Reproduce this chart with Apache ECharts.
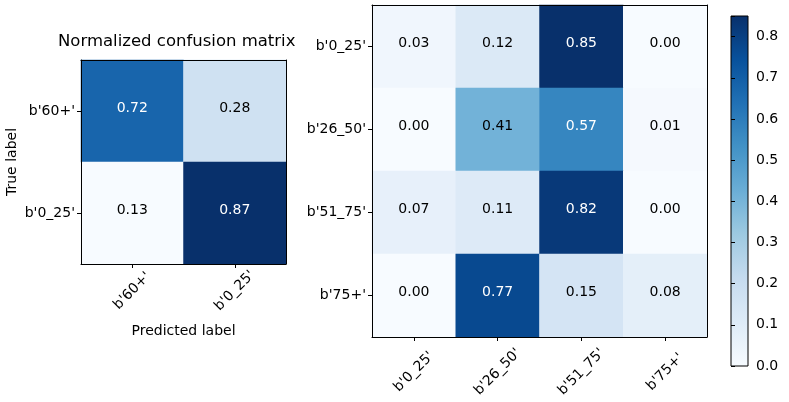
<!DOCTYPE html>
<html>
<head>
<meta charset="utf-8">
<script src="https://cdn.jsdelivr.net/npm/echarts@6/dist/echarts.min.js"></script>
<style>
  html, body { margin: 0; padding: 0; background: #fff; }
  #chart { width: 789px; height: 402px; }
</style>
</head>
<body>
<div id="chart"></div>
<script>
  // class labels
  const leftLabels = ["b'60+'", "b'0_25'"];
  const rightLabels = ["b'0_25'", "b'26_50'", "b'51_75'", "b'75+'"];

  // normalized confusion matrices (rows = true, cols = predicted)
  const leftMatrix = [
    [0.72, 0.28],
    [0.13, 0.87],
  ];
  const rightMatrix = [
    [0.03, 0.12, 0.85, 0.00],
    [0.00, 0.41, 0.57, 0.01],
    [0.07, 0.11, 0.82, 0.00],
    [0.00, 0.77, 0.15, 0.08],
  ];

  // colour range of each matrix (data min / max)
  const leftRange = [0.13, 0.87];
  const rightRange = [0.00, 0.85];
  const colorbarTicks = [0.0, 0.1, 0.2, 0.3, 0.4, 0.5, 0.6, 0.7, 0.8];

  // matplotlib "Blues"
  const blues = ['#f7fbff', '#deebf7', '#c6dbef', '#9ecae1', '#6baed6',
    '#4292c6', '#2171b5', '#08519c', '#08306b'];

  const font = 'DejaVu Sans';
  const fs = 14;

  const toCells = (matrix, range) => {
    const thresh = range[1] / 2;
    const out = [];
    matrix.forEach((row, r) => {
      row.forEach((v, c) => {
        out.push({
          value: [c, r, v],
          label: { color: v > thresh ? '#fff' : '#000' },
        });
      });
    });
    return out;
  };

  const spine = { show: true, lineStyle: { color: '#000', width: 1 } };
  const tick = { show: true, alignWithLabel: true, length: 4, lineStyle: { color: '#000' } };
  const tickLabel = { color: '#000', fontFamily: font, fontSize: fs };

  const edgeX = (grid, labels, pos) => ({
    type: 'category', gridIndex: grid, data: labels, position: pos, z: 10,
    axisLine: spine, axisTick: { show: false }, axisLabel: { show: false }, splitLine: { show: false },
  });
  const edgeY = (grid, labels, pos) => ({
    type: 'category', gridIndex: grid, data: labels, position: pos, inverse: true, z: 10,
    axisLine: spine, axisTick: { show: false }, axisLabel: { show: false }, splitLine: { show: false },
  });

  // colorbar fill, dark at the top
  const gradStops = blues.map((c, i) => ({ offset: 1 - i / (blues.length - 1), color: c })).reverse();

  const cellLabel = {
    show: true, fontFamily: font, fontSize: fs, offset: [0, -3],
    formatter: (p) => p.value[2].toFixed(2),
  };

  const myChart = echarts.init(document.getElementById('chart'));
  myChart.setOption({
    animation: false,
    backgroundColor: '#fff',
    title: {
      text: 'Normalized confusion matrix',
      left: 53, top: 28,
      textStyle: { fontFamily: font, fontSize: 16.5, fontWeight: 'normal', color: '#000' },
    },
    grid: [
      { left: 81, top: 60, width: 205, height: 204 },
      { left: 372, top: 5, width: 335, height: 332 },
      {
        left: 731, top: 16, width: 17, height: 350, show: true,
        borderColor: '#000', borderWidth: 1,
        backgroundColor: { type: 'linear', x: 0, y: 0, x2: 0, y2: 1, colorStops: gradStops },
      },
    ],
    xAxis: [
      {
        type: 'category', gridIndex: 0, data: leftLabels, z: 10,
        axisLine: spine, axisTick: tick, splitLine: { show: false },
        axisLabel: Object.assign({ rotate: 45, margin: 27, align: 'center', verticalAlign: 'middle' }, tickLabel),
        name: 'Predicted label', nameLocation: 'middle', nameGap: 60,
        nameTextStyle: { fontFamily: font, fontSize: fs, color: '#000' },
      },
      {
        type: 'category', gridIndex: 1, data: rightLabels, z: 10,
        axisLine: spine, axisTick: tick, splitLine: { show: false },
        axisLabel: Object.assign({ rotate: 45, margin: 35, align: 'center', verticalAlign: 'middle' }, tickLabel),
      },
      { type: 'value', gridIndex: 2, show: false, min: 0, max: 1 },
      edgeX(0, leftLabels, 'top'),
      edgeX(1, rightLabels, 'top'),
    ],
    yAxis: [
      {
        type: 'category', gridIndex: 0, data: leftLabels, inverse: true, z: 10,
        axisLine: spine, axisTick: tick, splitLine: { show: false },
        axisLabel: Object.assign({ margin: 6 }, tickLabel),
        name: 'True label', nameLocation: 'middle', nameGap: 62, nameRotate: 90,
        nameTextStyle: { fontFamily: font, fontSize: fs, color: '#000' },
      },
      {
        type: 'category', gridIndex: 1, data: rightLabels, inverse: true, z: 10,
        axisLine: spine, axisTick: tick, splitLine: { show: false },
        axisLabel: Object.assign({ margin: 6 }, tickLabel),
      },
      {
        type: 'value', gridIndex: 2, position: 'right', min: rightRange[0], max: rightRange[1],
        interval: 0.1, z: 10,
        axisLine: { show: false },
        axisTick: { show: true, length: 4, lineStyle: { color: '#000' } },
        splitLine: { show: false },
        axisLabel: Object.assign({
          margin: 8,
          formatter: (v) => (colorbarTicks.some((t) => Math.abs(t - v) < 1e-9) ? v.toFixed(1) : ''),
        }, tickLabel),
      },
      edgeY(0, leftLabels, 'right'),
      edgeY(1, rightLabels, 'right'),
    ],
    visualMap: [
      { show: false, seriesIndex: 0, dimension: 2, min: leftRange[0], max: leftRange[1], inRange: { color: blues } },
      { show: false, seriesIndex: 1, dimension: 2, min: rightRange[0], max: rightRange[1], inRange: { color: blues } },
    ],
    series: [
      {
        type: 'heatmap', xAxisIndex: 0, yAxisIndex: 0,
        data: toCells(leftMatrix, leftRange),
        label: cellLabel,
        itemStyle: { borderWidth: 0 },
        emphasis: { disabled: true },
      },
      {
        type: 'heatmap', xAxisIndex: 1, yAxisIndex: 1,
        data: toCells(rightMatrix, rightRange),
        label: cellLabel,
        itemStyle: { borderWidth: 0 },
        emphasis: { disabled: true },
      },
    ],
  });
</script>
</body>
</html>
